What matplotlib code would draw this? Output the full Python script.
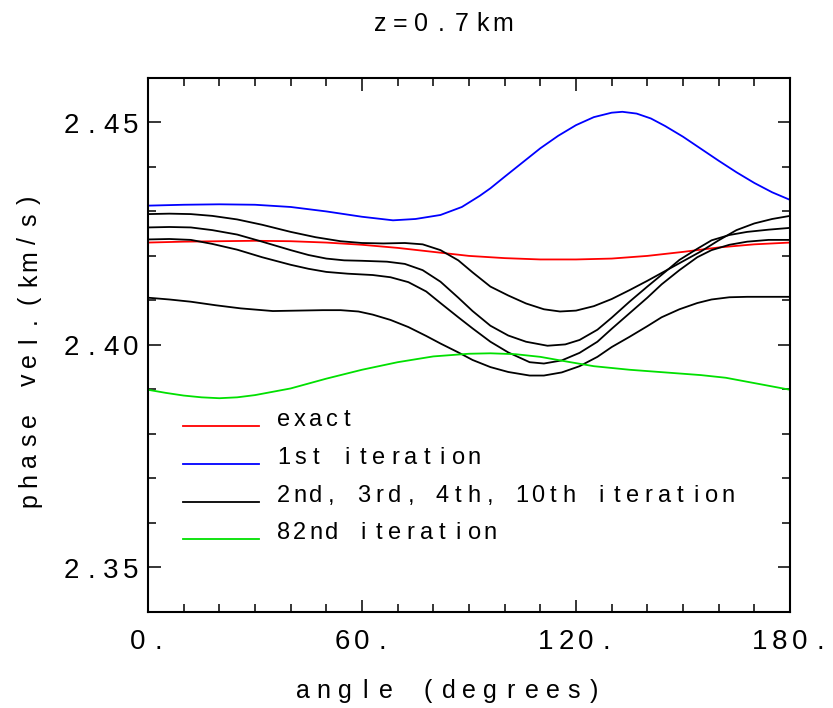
import matplotlib
matplotlib.use("Agg")
import matplotlib.pyplot as plt
from matplotlib.transforms import offset_copy
from matplotlib.ticker import MultipleLocator
import numpy as np

plt.rcParams['font.family'] = ['Liberation Sans', 'DejaVu Sans']

# phase velocity (km/s) against angle (degrees)
exact_ang = [0, 10, 20, 30, 40, 50, 60, 70, 80, 90, 100, 110, 120, 130, 140,
             150, 160, 170, 180]
exact_vel = [2.4230, 2.4232, 2.4233, 2.4234, 2.4233, 2.4230, 2.4225, 2.4218,
             2.4209, 2.4200, 2.4195, 2.4192, 2.4192, 2.4194, 2.4200, 2.4209,
             2.4219, 2.4226, 2.4230]

first_ang = [0, 10, 20, 30, 40, 50, 60, 68.7, 75, 82, 88, 90, 93, 96, 100, 105,
             110, 115, 120, 125, 130, 133, 137, 141, 145, 150, 155, 160, 165,
             170, 175, 180]
first_vel = [2.4313, 2.4315, 2.4316, 2.4315, 2.4310, 2.4300, 2.4288, 2.4280,
             2.4283, 2.4292, 2.4310, 2.4320, 2.4335, 2.4352, 2.4378, 2.4410,
             2.4442, 2.4470, 2.4494, 2.4512, 2.4522, 2.4524, 2.4520, 2.4509,
             2.4492, 2.4468, 2.4441, 2.4414, 2.4388, 2.4364, 2.4343, 2.4326]

# the four black curves (2nd, 3rd, 4th, 10th iteration)
iter_a_ang = [0, 6, 12, 18, 25, 32, 40, 47, 54, 60, 66, 72, 77, 82, 87, 91, 96,
              101, 106, 111, 115.5, 120, 125, 130, 135, 140, 145, 150, 155,
              160, 165, 170, 175, 180]
iter_a_vel = [2.4294, 2.4295, 2.4294, 2.4290, 2.4282, 2.4270, 2.4254, 2.4242,
              2.4233, 2.4229, 2.4228, 2.4229, 2.4226, 2.4213, 2.4190, 2.4163,
              2.4131, 2.4111, 2.4093, 2.4080, 2.4075, 2.4077, 2.4087, 2.4103,
              2.4123, 2.4144, 2.4166, 2.4188, 2.4210, 2.4235, 2.4258, 2.4273,
              2.4283, 2.4290]

iter_b_ang = [0, 6, 12, 18, 25, 32, 40, 45, 50, 55, 60, 67, 72, 77, 82, 87, 91,
              96, 101, 106, 112, 117, 121, 126, 130, 135, 140, 145, 149, 154,
              158, 163, 168, 174, 180]
iter_b_vel = [2.4264, 2.4265, 2.4264, 2.4258, 2.4248, 2.4232, 2.4213, 2.4202,
              2.4194, 2.4190, 2.4189, 2.4187, 2.4182, 2.4168, 2.4142, 2.4106,
              2.4076, 2.4043, 2.4021, 2.4007, 2.3998, 2.4001, 2.4011, 2.4034,
              2.4061, 2.4097, 2.4131, 2.4164, 2.4191, 2.4216, 2.4235, 2.4247,
              2.4254, 2.4259, 2.4263]

iter_c_ang = [0, 6, 12, 18, 25, 32, 40, 45, 50, 56, 63, 68, 73, 78, 82, 87, 91,
              96, 101, 107, 111, 116, 121, 126, 130, 135, 140, 144, 149, 154,
              158, 163, 168, 174, 180]
iter_c_vel = [2.4237, 2.4238, 2.4236, 2.4227, 2.4214, 2.4197, 2.4180, 2.4171,
              2.4164, 2.4160, 2.4157, 2.4152, 2.4141, 2.4120, 2.4094, 2.4062,
              2.4037, 2.4007, 2.3983, 2.3961, 2.3958, 2.3965, 2.3982, 2.4007,
              2.4036, 2.4071, 2.4106, 2.4136, 2.4168, 2.4197, 2.4213, 2.4225,
              2.4232, 2.4236, 2.4236]

iter_d_ang = [0, 6, 12, 19, 26, 35, 42, 49, 54, 59, 63, 68, 73, 78, 82, 87, 91,
              96, 101, 107, 111, 116, 121, 126, 130, 135, 140, 144, 149, 154,
              158, 163, 168, 174, 180]
iter_d_vel = [2.4106, 2.4102, 2.4097, 2.4089, 2.4082, 2.4076, 2.4077, 2.4078,
              2.4078, 2.4075, 2.4068, 2.4056, 2.4040, 2.4020, 2.4003, 2.3983,
              2.3966, 2.3950, 2.3939, 2.3931, 2.3931, 2.3938, 2.3952, 2.3973,
              2.3995, 2.4018, 2.4042, 2.4062, 2.4080, 2.4094, 2.4102, 2.4107,
              2.4108, 2.4108, 2.4108]

last_ang = [0, 5, 10, 15, 20, 25, 30, 40, 50, 60, 70, 80, 90, 96, 103, 110,
            117, 125, 135, 145, 155, 162, 168, 174, 180]
last_vel = [2.3899, 2.3892, 2.3886, 2.3882, 2.3880, 2.3882, 2.3887, 2.3902,
            2.3924, 2.3944, 2.3961, 2.3974, 2.3980, 2.3981, 2.3979, 2.3973,
            2.3963, 2.3952, 2.3944, 2.3938, 2.3932, 2.3926, 2.3917, 2.3908,
            2.3899]

xticks = [0, 60, 120, 180]
xtick_labels = ["0.", "60.", "120.", "180."]
yticks = [2.35, 2.40, 2.45]
ytick_labels = ["2.35", "2.40", "2.45"]

legend_labels = ["exact", "1st iteration", "2nd, 3rd, 4th, 10th iteration",
                 "82nd iteration"]
legend_colors = ["#ff0000", "#0000ff", "#000000", "#00e000"]


def spaced_text(fig, x, y, s, pitch, size, trans, ha="center",
                rotation=0, dx=0, dy=0):
    # fixed pitch lettering, one glyph per cell (like the old plot package)
    n = len(s)
    c, sn = np.cos(np.radians(rotation)), np.sin(np.radians(rotation))
    for i, ch in enumerate(s):
        if ch == " ":
            continue
        if ha == "left":
            along = (i + 0.5) * pitch
        else:
            along = (i - (n - 1) / 2) * pitch
        t = offset_copy(trans, fig=fig, x=dx + along * c, y=dy + along * sn,
                        units="dots")
        fig.text(x, y, ch, transform=t, fontsize=size, ha="center",
                 va="baseline", rotation=rotation, rotation_mode="anchor")


fig = plt.figure(figsize=(8.33, 7.08), dpi=100)
ax = fig.add_axes([148 / 833, 96.3 / 708, 642 / 833, 533.7 / 708])

lw = 1.3
ax.plot(exact_ang, exact_vel, color=legend_colors[0], lw=lw)
ax.plot(first_ang, first_vel, color=legend_colors[1], lw=lw)
for a, v in [(iter_a_ang, iter_a_vel), (iter_b_ang, iter_b_vel),
             (iter_c_ang, iter_c_vel), (iter_d_ang, iter_d_vel)]:
    ax.plot(a, v, color=legend_colors[2], lw=lw)
ax.plot(last_ang, last_vel, color=legend_colors[3], lw=lw)

ax.set_xlim(0, 180)
ax.set_ylim(2.34, 2.46)
ax.xaxis.set_major_locator(MultipleLocator(60))
ax.xaxis.set_minor_locator(MultipleLocator(10))
ax.yaxis.set_major_locator(MultipleLocator(0.05))
ax.yaxis.set_minor_locator(MultipleLocator(0.01))
ax.tick_params(which="both", direction="in", top=True, right=True,
               labelbottom=False, labelleft=False, width=1.1, color="black")
ax.tick_params(which="major", length=9)
ax.tick_params(which="minor", length=5.8)
for sp in ax.spines.values():
    sp.set_linewidth(1.5)

# tick labels
for v, lab in zip(xticks, xtick_labels):
    spaced_text(fig, v, 0, lab, 20, 20, ax.get_xaxis_transform(), dy=-37)
for v, lab in zip(yticks, ytick_labels):
    spaced_text(fig, 0, v, lab, 20, 20, ax.get_yaxis_transform(),
                dx=-47, dy=-10.5)

# axis labels and title
spaced_text(fig, 0.468, 0, "angle (degrees)", 20.8, 18, ax.transAxes, dy=-86)
spaced_text(fig, 0, 0.49, "phase vel.(km/s)", 20, 18, ax.transAxes,
            rotation=90, dx=-112)
spaced_text(fig, 441.5 / 833, 1 - 31 / 708, "z=0.7km", 20.5, 18,
            fig.transFigure)

# legend drawn by hand, lines on the left and spaced text to the right
rows = [0.348, 0.2767, 0.2055, 0.1362]
for yy, lab, col in zip(rows, legend_labels, legend_colors):
    ax.plot([0.0545, 0.173], [yy, yy], color=col, lw=lw,
            transform=ax.transAxes, clip_on=False)
    spaced_text(fig, 0.2025, yy, lab, 15.85, 17, ax.transAxes, ha="left",
                dx=-2)

fig.savefig("out.png", dpi=100)
